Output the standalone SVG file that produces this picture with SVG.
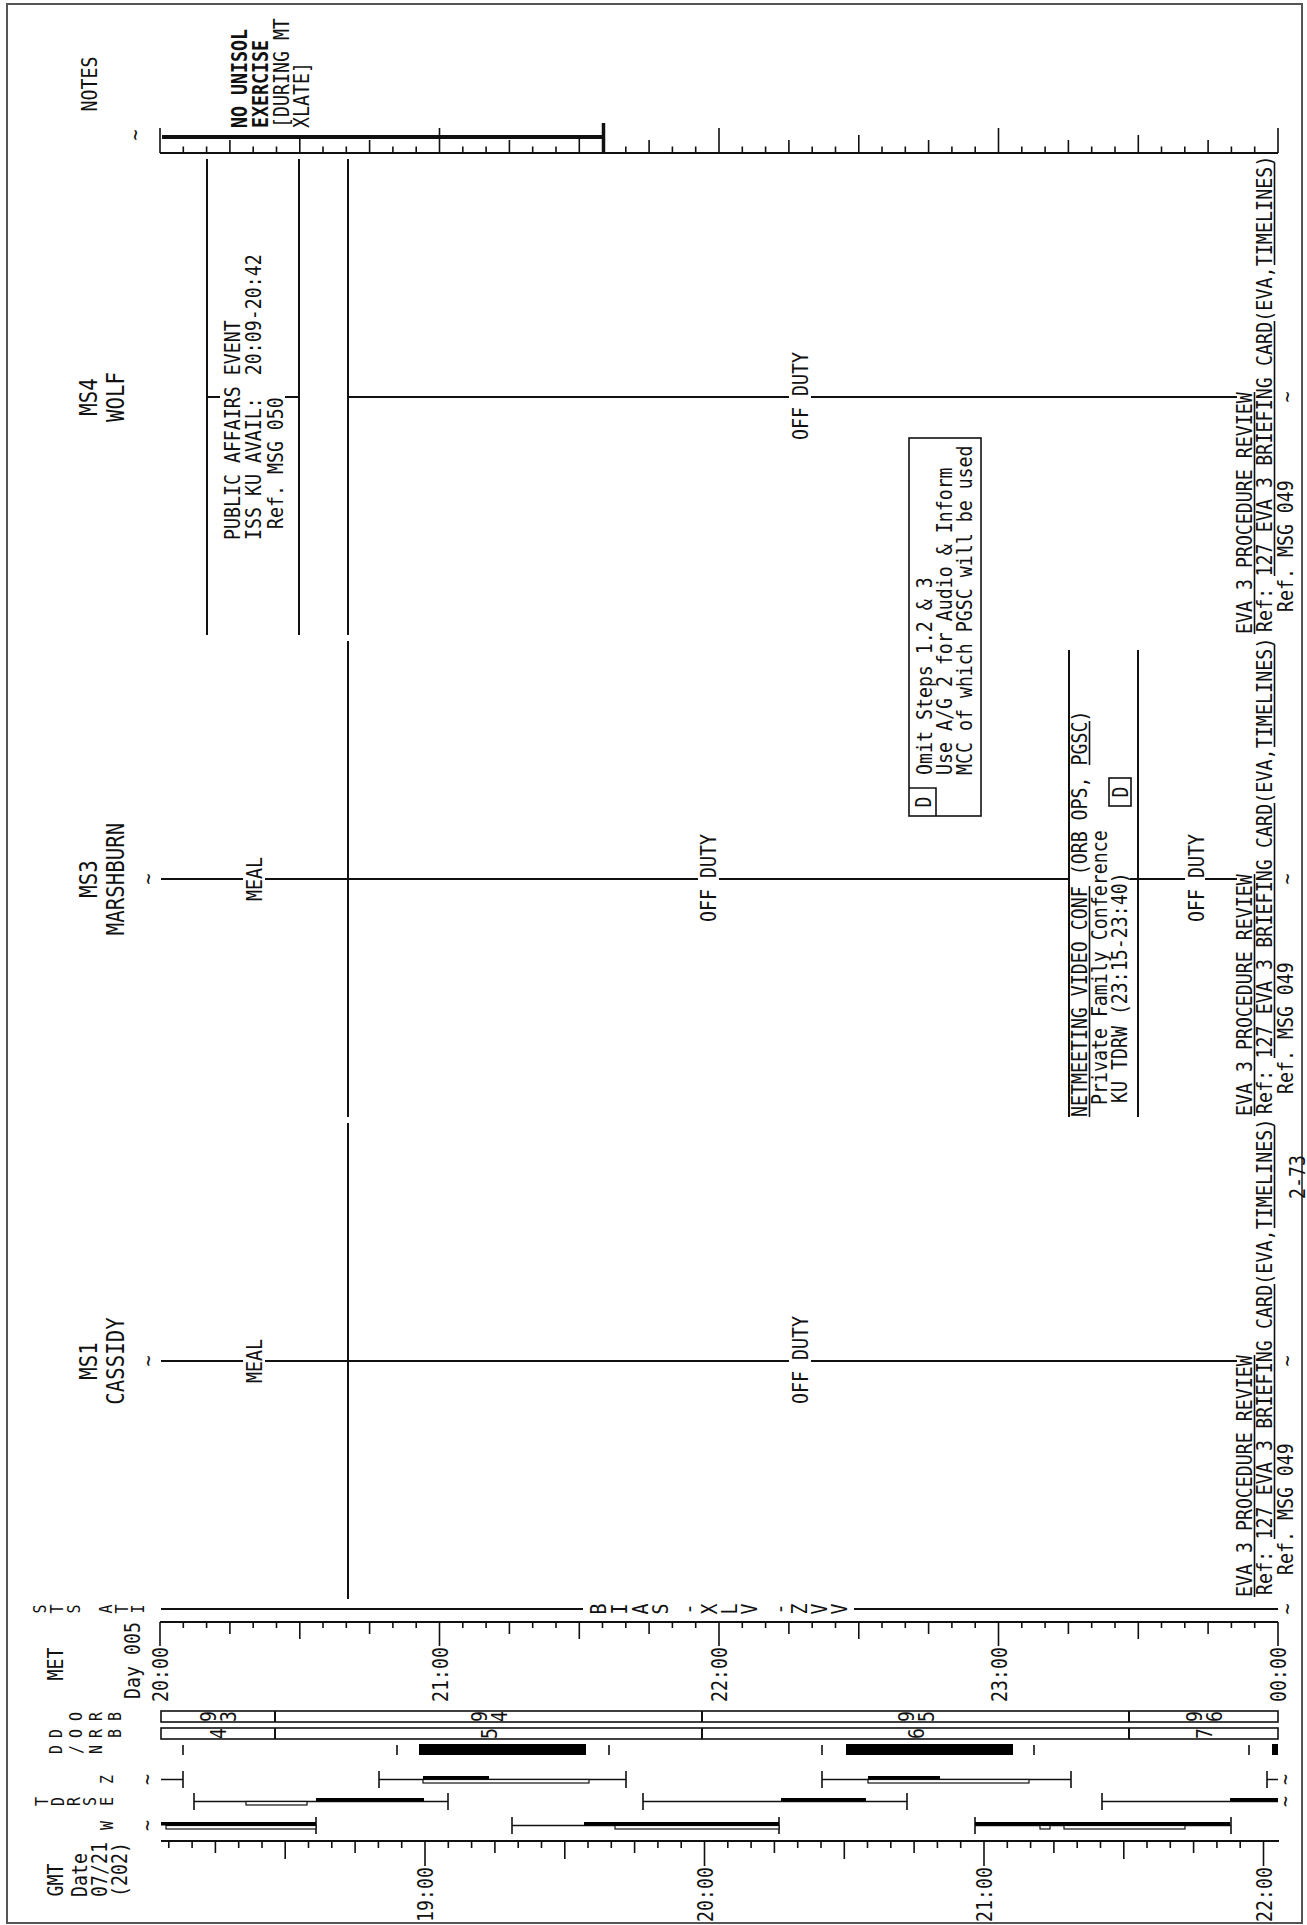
<svg xmlns="http://www.w3.org/2000/svg" width="1307" height="1925" viewBox="0 0 1307 1925">
<style>
text{font-family:"DejaVu Sans Mono","Liberation Mono",monospace;font-size:22px;fill:#111}
.big{font-size:25px}
.sm{font-size:18px}
.b{font-weight:bold}
.m{text-anchor:middle}
.e{text-anchor:end}
.ln{stroke:#111;stroke-width:2;fill:none}
.tk{stroke:#111;stroke-width:1.6;fill:none}
.ul{stroke:#111;stroke-width:1.6;fill:none}
.blk{fill:#000}
.wht{fill:#fff;stroke:#111;stroke-width:1.2}
.box{fill:none;stroke:#111;stroke-width:1.6}
</style>
<rect width="1307" height="1925" fill="#fff"/>
<rect x="7" y="4" width="1295" height="1919" fill="none" stroke="#555" stroke-width="2"/>

<g id="headers">
<text class="m" transform="translate(97 84) rotate(-90) scale(.83 1)">NOTES</text>
<text class="m big" transform="translate(97 397) rotate(-90) scale(.83 1)">MS4</text>
<text class="m big" transform="translate(124 397) rotate(-90) scale(.83 1)">WOLF</text>
<text class="m big" transform="translate(97 879) rotate(-90) scale(.83 1)">MS3</text>
<text class="m big" transform="translate(124 879) rotate(-90) scale(.83 1)">MARSHBURN</text>
<text class="m big" transform="translate(97 1361) rotate(-90) scale(.83 1)">MS1</text>
<text class="m big" transform="translate(124 1361) rotate(-90) scale(.83 1)">CASSIDY</text>
<text class="m" transform="translate(63 1664) rotate(-90) scale(.83 1)">MET</text>
<text transform="translate(140 1699) rotate(-90) scale(.83 1)">Day 005</text>
<text class="m" transform="translate(63 1880) rotate(-90) scale(.83 1)">GMT</text>
<text transform="translate(87 1897) rotate(-90) scale(.83 1)">Date</text>
<text transform="translate(107 1897) rotate(-90) scale(.83 1)">07/21</text>
<text transform="translate(127 1897) rotate(-90) scale(.83 1)">(202)</text>
</g>

<g id="connectors">
<path class="ln" d="M348 159V635M348 641V1117M348 1123V1599"/>
</g>

<g id="notes">
<text class="m" transform="translate(142 135) rotate(-90) scale(.83 1)">~</text>
<line x1="162" y1="137" x2="604" y2="137" stroke="#111" stroke-width="4"/>
<line x1="603.5" y1="123" x2="603.5" y2="153" stroke="#111" stroke-width="3.5"/>
<path class="ln" d="M160 153H1278"/>
<path class="tk" d="M160 153V128M183.3 153V146.5M206.6 153V146.5M229.9 153V140M253.2 153V146.5M276.5 153V146.5M299.8 153V135M323 153V146.5M346.3 153V146.5M369.6 153V140M392.9 153V146.5M416.2 153V146.5M439.5 153V128M462.8 153V146.5M486.1 153V146.5M509.4 153V140M532.7 153V146.5M556 153V146.5M579.3 153V135M625.8 153V146.5M649.1 153V140M672.4 153V146.5M695.7 153V146.5M719 153V128M742.3 153V146.5M765.6 153V146.5M788.9 153V140M812.2 153V146.5M835.5 153V146.5M858.8 153V135M882 153V146.5M905.3 153V146.5M928.6 153V140M951.9 153V146.5M975.2 153V146.5M998.5 153V128M1021.8 153V146.5M1045.1 153V146.5M1068.4 153V140M1091.7 153V146.5M1115 153V146.5M1138.3 153V135M1161.5 153V146.5M1184.8 153V146.5M1208.1 153V140M1231.4 153V146.5M1254.7 153V146.5M1278 153V128"/>
<text class="b" transform="translate(247 128) rotate(-90) scale(.83 1)">NO UNISOL</text>
<text class="b" transform="translate(268 128) rotate(-90) scale(.83 1)">EXERCISE</text>
<text transform="translate(289 128) rotate(-90) scale(.83 1)">[DURING MT</text>
<text transform="translate(309 128) rotate(-90) scale(.83 1)">XLATE]</text>
</g>

<g id="ms4">
<path class="ln" d="M207 159V635M299 159V635"/>
<path class="ln" d="M207 397H220M285 397H299M348 397H789M811 397H1237"/>
<text transform="translate(240 540) rotate(-90) scale(.83 1)">PUBLIC AFFAIRS EVENT</text>
<text xml:space="preserve" transform="translate(261 540) rotate(-90) scale(.83 1)">ISS KU AVAIL:  20:09-20:42</text>
<text transform="translate(283 529) rotate(-90) scale(.83 1)">Ref. MSG 050</text>
<text class="m" transform="translate(808 396) rotate(-90) scale(.83 1)">OFF DUTY</text>
<text transform="translate(1252 634) rotate(-90) scale(.83 1)">EVA 3 PROCEDURE REVIEW</text>
<text textLength="574" transform="translate(1272 632) rotate(-90) scale(.83 1)">Ref: 127 EVA 3 BRIEFING CARD(EVA,TIMELINES)</text>
<text transform="translate(1293 612) rotate(-90) scale(.83 1)">Ref. MSG 049</text>
<path class="ul" d="M1254.5 634V392M1274.5 576V321M1274.5 265V163"/>
<text class="m" transform="translate(1294 397) rotate(-90) scale(.83 1)">~</text>
</g>

<g id="ms3">
<text class="m" transform="translate(155 879) rotate(-90) scale(.83 1)">~</text>
<path class="ln" d="M161 879H243M265 879H698M719 879H1069M1130 879H1185M1205 879H1237"/>
<text class="m" transform="translate(262 879) rotate(-90) scale(.83 1)">MEAL</text>
<text class="m" transform="translate(716 878) rotate(-90) scale(.83 1)">OFF DUTY</text>
<text class="m" transform="translate(1204 878) rotate(-90) scale(.83 1)">OFF DUTY</text>
<path class="ln" d="M1069 650V1117M1138 650V1117"/>
<text transform="translate(1087 1117) rotate(-90) scale(.83 1)">NETMEETING VIDEO CONF (ORB OPS, PGSC)</text>
<text transform="translate(1107 1105) rotate(-90) scale(.83 1)">Private Family Conference</text>
<text transform="translate(1127 1103) rotate(-90) scale(.83 1)">KU TDRW (23:15-23:40)</text>
<path class="ul" d="M1089.5 1117V886M1089.5 765V721"/>
<rect class="box" x="1109" y="778" width="22" height="28"/>
<text class="m" transform="translate(1128 792) rotate(-90) scale(.83 1)">D</text>
<rect class="box" x="909" y="438" width="72" height="378"/>
<path class="box" d="M909 788H936V816"/>
<text class="m" transform="translate(931 802) rotate(-90) scale(.83 1)">D</text>
<text transform="translate(932 775) rotate(-90) scale(.83 1)">Omit Steps 1.2 &amp; 3</text>
<text transform="translate(952 775) rotate(-90) scale(.83 1)">Use A/G 2 for Audio &amp; Inform</text>
<text transform="translate(972 775) rotate(-90) scale(.83 1)">MCC of which PGSC will be used</text>
<text transform="translate(1252 1116) rotate(-90) scale(.83 1)">EVA 3 PROCEDURE REVIEW</text>
<text textLength="574" transform="translate(1272 1114) rotate(-90) scale(.83 1)">Ref: 127 EVA 3 BRIEFING CARD(EVA,TIMELINES)</text>
<text transform="translate(1293 1094) rotate(-90) scale(.83 1)">Ref. MSG 049</text>
<path class="ul" d="M1254.5 1116V874M1274.5 1058V803M1274.5 747V645"/>
<text class="m" transform="translate(1294 879) rotate(-90) scale(.83 1)">~</text>
</g>

<g id="ms1">
<text class="m" transform="translate(155 1361) rotate(-90) scale(.83 1)">~</text>
<path class="ln" d="M161 1361H243M265 1361H789M811 1361H1237"/>
<text class="m" transform="translate(262 1361) rotate(-90) scale(.83 1)">MEAL</text>
<text class="m" transform="translate(808 1360) rotate(-90) scale(.83 1)">OFF DUTY</text>
<text transform="translate(1252 1597) rotate(-90) scale(.83 1)">EVA 3 PROCEDURE REVIEW</text>
<text textLength="574" transform="translate(1272 1595) rotate(-90) scale(.83 1)">Ref: 127 EVA 3 BRIEFING CARD(EVA,TIMELINES)</text>
<text transform="translate(1293 1575) rotate(-90) scale(.83 1)">Ref. MSG 049</text>
<path class="ul" d="M1254.5 1597V1355M1274.5 1539V1284M1274.5 1228V1126"/>
<text class="m" transform="translate(1294 1361) rotate(-90) scale(.83 1)">~</text>
<text class="m" transform="translate(1305 1177) rotate(-90) scale(.83 1)">2-73</text>
</g>

<g id="sts">
<text class="m sm" transform="translate(46 1609) rotate(-90) scale(.83 1)">S</text>
<text class="m sm" transform="translate(63 1609) rotate(-90) scale(.83 1)">T</text>
<text class="m sm" transform="translate(80 1609) rotate(-90) scale(.83 1)">S</text>
<text class="m sm" transform="translate(112 1609) rotate(-90) scale(.83 1)">A</text>
<text class="m sm" transform="translate(128 1609) rotate(-90) scale(.83 1)">T</text>
<text class="m sm" transform="translate(144 1609) rotate(-90) scale(.83 1)">I</text>
<path class="ln" d="M161 1609H583M854 1609H1278"/>
<text class="m" transform="translate(606 1609) rotate(-90) scale(.83 1)">B</text>
<text class="m" transform="translate(627 1609) rotate(-90) scale(.83 1)">I</text>
<text class="m" transform="translate(648 1609) rotate(-90) scale(.83 1)">A</text>
<text class="m" transform="translate(668 1609) rotate(-90) scale(.83 1)">S</text>
<text class="m" transform="translate(696 1609) rotate(-90) scale(.83 1)">-</text>
<text class="m" transform="translate(717 1609) rotate(-90) scale(.83 1)">X</text>
<text class="m" transform="translate(737 1609) rotate(-90) scale(.83 1)">L</text>
<text class="m" transform="translate(757 1609) rotate(-90) scale(.83 1)">V</text>
<text class="m" transform="translate(787 1609) rotate(-90) scale(.83 1)">-</text>
<text class="m" transform="translate(807 1609) rotate(-90) scale(.83 1)">Z</text>
<text class="m" transform="translate(827 1609) rotate(-90) scale(.83 1)">V</text>
<text class="m" transform="translate(847 1609) rotate(-90) scale(.83 1)">V</text>
<text class="m" transform="translate(1294 1609) rotate(-90) scale(.83 1)">~</text>
</g>

<g id="met">
<path class="ln" d="M160 1622H1278"/>
<path class="tk" d="M160 1622V1646M183.3 1622V1628M206.6 1622V1628M229.9 1622V1634M253.2 1622V1628M276.5 1622V1628M299.8 1622V1639M323 1622V1628M346.3 1622V1628M369.6 1622V1634M392.9 1622V1628M416.2 1622V1628M439.5 1622V1646M462.8 1622V1628M486.1 1622V1628M509.4 1622V1634M532.7 1622V1628M556 1622V1628M579.3 1622V1639M602.5 1622V1628M625.8 1622V1628M649.1 1622V1634M672.4 1622V1628M695.7 1622V1628M719 1622V1646M742.3 1622V1628M765.6 1622V1628M788.9 1622V1634M812.2 1622V1628M835.5 1622V1628M858.8 1622V1639M882 1622V1628M905.3 1622V1628M928.6 1622V1634M951.9 1622V1628M975.2 1622V1628M998.5 1622V1646M1021.8 1622V1628M1045.1 1622V1628M1068.4 1622V1634M1091.7 1622V1628M1115 1622V1628M1138.3 1622V1639M1161.5 1622V1628M1184.8 1622V1628M1208.1 1622V1634M1231.4 1622V1628M1254.7 1622V1628M1278 1622V1646"/>
<text class="e" transform="translate(168 1647) rotate(-90) scale(.83 1)">20:00</text>
<text class="e" transform="translate(447.5 1647) rotate(-90) scale(.83 1)">21:00</text>
<text class="e" transform="translate(727 1647) rotate(-90) scale(.83 1)">22:00</text>
<text class="e" transform="translate(1006.5 1647) rotate(-90) scale(.83 1)">23:00</text>
<text class="e" transform="translate(1286 1647) rotate(-90) scale(.83 1)">00:00</text>
</g>

<g id="orbit">
<text class="m sm" transform="translate(82 1716.5) rotate(-90) scale(.83 1)">O</text>
<text class="m sm" transform="translate(102 1716.5) rotate(-90) scale(.83 1)">R</text>
<text class="m sm" transform="translate(121 1716.5) rotate(-90) scale(.83 1)">B</text>
<text class="m sm" transform="translate(62 1733.5) rotate(-90) scale(.83 1)">D</text>
<text class="m sm" transform="translate(82 1733.5) rotate(-90) scale(.83 1)">O</text>
<text class="m sm" transform="translate(102 1733.5) rotate(-90) scale(.83 1)">R</text>
<text class="m sm" transform="translate(121 1733.5) rotate(-90) scale(.83 1)">B</text>
<rect class="box" x="161" y="1711" width="1117" height="11"/>
<rect class="box" x="161" y="1728" width="1117" height="11"/>
<path class="ln" d="M275 1711V1722M702 1711V1722M1129 1711V1722M275 1728V1739M702 1728V1739M1129 1728V1739"/>
<text class="m" transform="translate(216 1716.5) rotate(-90) scale(.83 1)">9</text>
<text class="m" transform="translate(236 1716.5) rotate(-90) scale(.83 1)">3</text>
<text class="m" transform="translate(226 1733.5) rotate(-90) scale(.83 1)">4</text>
<text class="m" transform="translate(486.5 1716.5) rotate(-90) scale(.83 1)">9</text>
<text class="m" transform="translate(506.5 1716.5) rotate(-90) scale(.83 1)">4</text>
<text class="m" transform="translate(496.5 1733.5) rotate(-90) scale(.83 1)">5</text>
<text class="m" transform="translate(913.5 1716.5) rotate(-90) scale(.83 1)">9</text>
<text class="m" transform="translate(933.5 1716.5) rotate(-90) scale(.83 1)">5</text>
<text class="m" transform="translate(923.5 1733.5) rotate(-90) scale(.83 1)">6</text>
<text class="m" transform="translate(1201.5 1716.5) rotate(-90) scale(.83 1)">9</text>
<text class="m" transform="translate(1221.5 1716.5) rotate(-90) scale(.83 1)">6</text>
<text class="m" transform="translate(1211.5 1733.5) rotate(-90) scale(.83 1)">7</text>
</g>

<g id="daynight">
<text class="m sm" transform="translate(62 1749.5) rotate(-90) scale(.83 1)">D</text>
<text class="m sm" transform="translate(82 1749.5) rotate(-90) scale(.83 1)">/</text>
<text class="m sm" transform="translate(102 1749.5) rotate(-90) scale(.83 1)">N</text>
<rect class="blk" x="419" y="1744" width="167" height="11"/>
<rect class="blk" x="846" y="1744" width="167" height="11"/>
<rect class="blk" x="1272" y="1744" width="6" height="11"/>
<path class="tk" d="M183 1745V1755M397 1745V1755M609 1745V1755M822 1745V1755M1034 1745V1755M1249 1745V1755"/>
</g>

<g id="tdrs">
<text class="m sm" transform="translate(48 1801.5) rotate(-90) scale(.83 1)">T</text>
<text class="m sm" transform="translate(64 1801.5) rotate(-90) scale(.83 1)">D</text>
<text class="m sm" transform="translate(80 1801.5) rotate(-90) scale(.83 1)">R</text>
<text class="m sm" transform="translate(96 1801.5) rotate(-90) scale(.83 1)">S</text>
<text class="m sm" transform="translate(113 1779.5) rotate(-90) scale(.83 1)">Z</text>
<text class="m sm" transform="translate(113 1801.5) rotate(-90) scale(.83 1)">E</text>
<text class="m sm" transform="translate(113 1825.5) rotate(-90) scale(.83 1)">W</text>
<text class="m" transform="translate(154 1779.5) rotate(-90) scale(.83 1)">~</text>
<text class="m" transform="translate(154 1825.5) rotate(-90) scale(.83 1)">~</text>
<text class="m" transform="translate(1292 1779.5) rotate(-90) scale(.83 1)">~</text>
<text class="m" transform="translate(1292 1801.5) rotate(-90) scale(.83 1)">~</text>
<path class="tk" d="M161 1779.5H183M183 1771V1788M379 1771V1788M379 1779.5H626M626 1771V1788M822 1771V1788M822 1779.5H1071M1071 1771V1788M1267 1771V1788M1267 1779.5H1278"/>
<rect class="wht" x="423" y="1779.5" width="166" height="3.5"/>
<rect class="blk" x="423" y="1776" width="66" height="3.5"/>
<rect class="wht" x="868" y="1779.5" width="161" height="3.5"/>
<rect class="blk" x="868" y="1776" width="72" height="3.5"/>
<path class="tk" d="M194 1793V1810M194 1801.5H448M448 1793V1810M643 1793V1810M643 1801.5H907M907 1793V1810M1102 1793V1810M1102 1801.5H1278"/>
<rect class="wht" x="246" y="1801.5" width="61" height="3.5"/>
<rect class="blk" x="316" y="1798" width="108" height="3.5"/>
<rect class="blk" x="781" y="1798" width="85" height="3.5"/>
<rect class="blk" x="1230" y="1798" width="48" height="3.5"/>
<path class="tk" d="M316 1817V1834M512 1817V1834M512 1825.5H779M779 1817V1834M975 1817V1834M975 1825.5H1231M1231 1817V1834"/>
<rect class="wht" x="166" y="1825.5" width="150" height="3.5"/>
<rect class="blk" x="161" y="1822" width="155" height="3.5"/>
<rect class="wht" x="615" y="1825.5" width="164" height="3.5"/>
<rect class="blk" x="584" y="1822" width="195" height="3.5"/>
<rect class="wht" x="1040" y="1825.5" width="10" height="3.5"/>
<rect class="wht" x="1064" y="1825.5" width="121" height="3.5"/>
<rect class="blk" x="975" y="1822" width="255" height="3.5"/>
</g>

<g id="gmt">
<path class="ln" d="M161 1841H1279"/>
<path class="tk" d="M168.8 1841V1848M192.1 1841V1848M215.4 1841V1853M238.7 1841V1848M262 1841V1848M285.2 1841V1859M308.5 1841V1848M331.8 1841V1848M355.1 1841V1853M378.4 1841V1848M401.7 1841V1848M425 1841V1866M448.3 1841V1848M471.6 1841V1848M494.9 1841V1853M518.2 1841V1848M541.5 1841V1848M564.8 1841V1859M588 1841V1848M611.3 1841V1848M634.6 1841V1853M657.9 1841V1848M681.2 1841V1848M704.5 1841V1866M727.8 1841V1848M751.1 1841V1848M774.4 1841V1853M797.7 1841V1848M821 1841V1848M844.3 1841V1859M867.5 1841V1848M890.8 1841V1848M914.1 1841V1853M937.4 1841V1848M960.7 1841V1848M984 1841V1866M1007.3 1841V1848M1030.6 1841V1848M1053.9 1841V1853M1077.2 1841V1848M1100.5 1841V1848M1123.8 1841V1859M1147 1841V1848M1170.3 1841V1848M1193.6 1841V1853M1216.9 1841V1848M1240.2 1841V1848M1263.5 1841V1866"/>
<text class="e" transform="translate(433 1867) rotate(-90) scale(.83 1)">19:00</text>
<text class="e" transform="translate(712.5 1867) rotate(-90) scale(.83 1)">20:00</text>
<text class="e" transform="translate(992 1867) rotate(-90) scale(.83 1)">21:00</text>
<text class="e" transform="translate(1271.5 1867) rotate(-90) scale(.83 1)">22:00</text>
</g>
</svg>
